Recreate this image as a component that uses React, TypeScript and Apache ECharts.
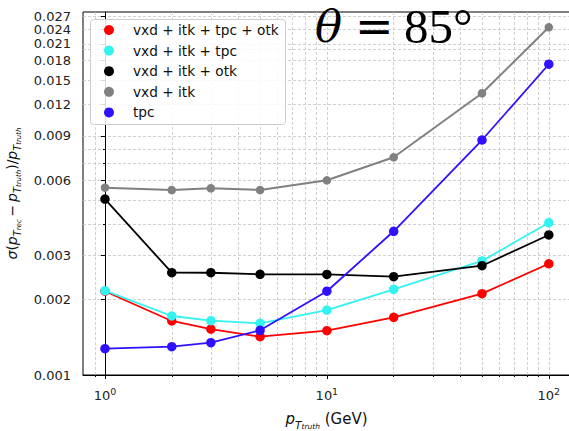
import React, { useEffect, useRef } from "react";
import * as echarts from "echarts";

// ---- data ----
const ptTruth = [1, 2, 3, 5, 10, 20, 50, 100];
const seriesNames = [
  "vxd + itk + tpc + otk",
  "vxd + itk + tpc",
  "vxd + itk + otk",
  "vxd + itk",
  "tpc",
];
const resVxdItkTpcOtk = [0.00216, 0.001643, 0.001526, 0.001422, 0.001503, 0.0017, 0.002112, 0.00278];
const resVxdItkTpc = [0.00217, 0.00172, 0.001647, 0.001608, 0.001817, 0.002198, 0.002852, 0.004055];
const resVxdItkOtk = [0.00504, 0.002561, 0.00256, 0.002523, 0.00252, 0.002469, 0.002731, 0.003622];
const resVxdItk = [0.005594, 0.005476, 0.005564, 0.005476, 0.005986, 0.007396, 0.01332, 0.02443];
const resTpc = [0.001274, 0.001297, 0.001346, 0.001508, 0.00216, 0.003747, 0.00867, 0.0174];
const seriesValues = [resVxdItkTpcOtk, resVxdItkTpc, resVxdItkOtk, resVxdItk, resTpc];
const seriesColors = ["#ff0000", "#33f2f2", "#000000", "#808080", "#2f10ff"];

const yTickValues = [0.001, 0.002, 0.003, 0.006, 0.009, 0.012, 0.015, 0.018, 0.021, 0.024, 0.027];
const yMinorValues = [0.004, 0.005, 0.007, 0.008, 0.02];
const xTickValues = [1, 10, 100];
const xMinorValues = [0.9, 2, 3, 4, 5, 6, 7, 8, 9, 20, 30, 40, 50, 60, 70, 80, 90];

// title pieces: "θ = 85°"
const titleSymbol = "θ";
const titleEquals = "=";
const titleValue = "85°";

// axis ranges (log10 space)
const X_MIN = -0.099;
const X_MAX = 2.0955;
const Y_MIN = -3;
const Y_MAX = -1.551;

const FONT = "DejaVu Sans";
const l10 = (v: number) => Math.log10(v);

const gridLineStyle = {
  show: true,
  lineStyle: { color: "#c4c4c4", width: 0.8, type: [3, 2] as any },
};

export default function App() {
  const ref = useRef<HTMLDivElement>(null);
  useEffect(() => {
    if (!ref.current) return;
    const chart = echarts.init(ref.current, null, { renderer: "svg" });
    const mathRich = (fs: number) => ({
      i: { fontFamily: FONT, fontStyle: "italic", fontSize: fs, lineHeight: 22, color: "#111" },
      n: { fontFamily: FONT, fontSize: fs, lineHeight: 22, color: "#111" },
      s: { fontFamily: FONT, fontStyle: "italic", fontSize: fs * 0.7, lineHeight: 14, verticalAlign: "bottom", color: "#111" },
      ss: { fontFamily: FONT, fontStyle: "italic", fontSize: fs * 0.5, lineHeight: 9, verticalAlign: "bottom", color: "#111" },
    });
    const option: any = {
      animation: false,
      backgroundColor: "#ffffff",
      grid: {
        left: 83,
        top: 12,
        right: 30,
        bottom: 56,
        show: true,
        borderColor: "#000",
        borderWidth: 1,
        backgroundColor: "transparent",
        containLabel: false,
        outerBoundsMode: "none",
      },
      legend: {
        show: true,
        orient: "vertical",
        left: 104,
        top: 22,
        padding: 0,
        itemWidth: 10,
        itemHeight: 10,
        itemGap: 4.6,
        icon: "circle",
        data: seriesNames,
        textStyle: { fontFamily: FONT, fontSize: 13.7, color: "#111", lineHeight: 16, padding: [0, 0, 0, 14] },
        z: 6,
      },
      xAxis: [
        {
          type: "value",
          min: X_MIN,
          max: X_MAX,
          axisLine: { show: true, lineStyle: { color: "#000", width: 1 } },
          axisTick: {
            show: true,
            length: 4,
            lineStyle: { color: "#000" },
            customValues: xTickValues.map(l10),
          },
          axisLabel: {
            show: true,
            margin: 11,
            fontFamily: FONT,
            fontSize: 13,
            color: "#222",
            lineHeight: 18,
            showMinLabel: true,
            showMaxLabel: true,
            customValues: xTickValues.map(l10),
            formatter: (v: number) => `10{s|${Math.round(v)}}`,
            rich: { s: { fontFamily: FONT, fontSize: 9.5, lineHeight: 11, verticalAlign: "top", color: "#222" } },
          },
          splitLine: gridLineStyle,
          name: "{i|p}{s|T}{ss|truth}{n| (GeV)}",
          nameLocation: "middle",
          nameGap: 33,
          nameTextStyle: { rich: mathRich(15) },
        },
        {
          type: "value",
          position: "bottom",
          min: X_MIN,
          max: X_MAX,
          axisLine: { show: false },
          axisTick: {
            show: true,
            length: 2,
            lineStyle: { color: "#000" },
            customValues: xMinorValues.map(l10),
          },
          axisLabel: { show: false },
          splitLine: gridLineStyle,
        },
      ],
      yAxis: [
        {
          type: "value",
          min: Y_MIN,
          max: Y_MAX,
          axisLine: { show: true, lineStyle: { color: "#000", width: 1 } },
          axisTick: {
            show: true,
            length: 4,
            lineStyle: { color: "#000" },
            customValues: yTickValues.map(l10),
          },
          axisLabel: {
            show: true,
            margin: 12,
            fontFamily: FONT,
            fontSize: 13,
            lineHeight: 11,
            color: "#222",
            showMinLabel: true,
            showMaxLabel: true,
            hideOverlap: false,
            customValues: yTickValues.map(l10),
            formatter: (v: number) => Math.pow(10, v).toFixed(3),
          },
          splitLine: gridLineStyle,
          name:
            "{i|σ}{n|(}{i|p}{s|T}{ss|rec}{n|\u2009−\u2009}{i|p}{s|T}{ss|truth}{n|)/}{i|p}{s|T}{ss|truth}",
          nameLocation: "middle",
          nameRotate: 90,
          nameGap: 56,
          nameTextStyle: { rich: mathRich(14) },
        },
        {
          type: "value",
          position: "left",
          min: Y_MIN,
          max: Y_MAX,
          axisLine: { show: false },
          axisTick: {
            show: true,
            length: 2,
            lineStyle: { color: "#000" },
            customValues: yMinorValues.map(l10),
          },
          axisLabel: { show: false },
          splitLine: gridLineStyle,
        },
      ],
      graphic: {
        elements: [
          {
            type: "rect",
            left: 90,
            top: 19,
            z: 3,
            shape: { width: 195, height: 105, r: 3 },
            style: { fill: "rgba(255,255,255,0.85)", stroke: "#cccccc", lineWidth: 1 },
          },
          {
            type: "text",
            x: 315,
            y: 4,
            z: 10,
            style: {
              text: titleSymbol,
              font: "italic 45px 'DejaVu Serif'",
              fill: "#000",
              verticalAlign: "top",
            },
          },
          {
            type: "text",
            x: 355,
            y: 3,
            z: 10,
            style: {
              text: titleEquals,
              font: "46px 'DejaVu Serif'",
              fill: "#000",
              verticalAlign: "top",
            },
          },
          {
            type: "text",
            x: 404,
            y: 2,
            z: 10,
            style: {
              text: titleValue,
              font: "49px 'Liberation Serif'",
              fill: "#000",
              verticalAlign: "top",
            },
          },
        ],
      },
      series: seriesNames.map((name, k) => ({
        name,
        type: "line",
        xAxisIndex: 0,
        yAxisIndex: 0,
        symbol: "circle",
        symbolSize: k === 3 ? 8.5 : 9.5,
        showSymbol: true,
        z: 2 + k,
        itemStyle: { color: seriesColors[k] },
        lineStyle: { color: seriesColors[k], width: k === 3 ? 2 : 1.8 },
        data: ptTruth.map((x, i) => [l10(x), l10(seriesValues[k][i])]),
      })),
    };
    chart.setOption(option);
    return () => chart.dispose();
  }, []);

  return (
    <div
      style={{
        position: "fixed",
        left: 0,
        top: 0,
        width: 569,
        height: 431,
        overflow: "hidden",
        background: "#fff",
      }}
    >
      <div ref={ref} style={{ width: 600, height: 431 }} />
    </div>
  );
}
